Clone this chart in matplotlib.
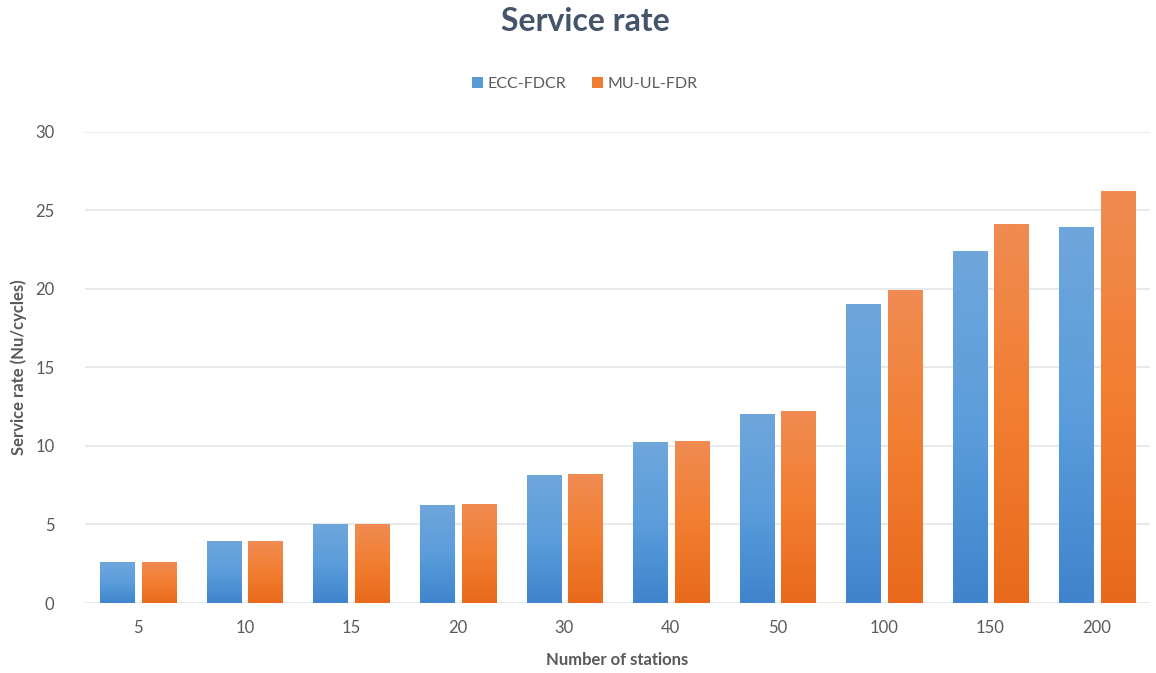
import numpy as np
import matplotlib.pyplot as plt
import matplotlib.colors as mcolors
from matplotlib.patches import Patch

plt.rcParams['font.family'] = ['Lato', 'DejaVu Sans']

# Service rate per number of stations
stations = ['5', '10', '15', '20', '30', '40', '50', '100', '150', '200']
ecc_fdcr = [2.6, 3.9, 5.0, 6.2, 8.1, 10.2, 12.0, 19.0, 22.4, 23.9]
mu_ul_fdr = [2.6, 3.9, 5.0, 6.3, 8.2, 10.3, 12.2, 19.9, 24.1, 26.2]
series_names = ['ECC-FDCR', 'MU-UL-FDR']

# light top -> darker bottom, like the office-style gradient fill
blue_grad = mcolors.LinearSegmentedColormap.from_list('b', ['#3f84cc', '#5b9ddc', '#6fa6db'])
orange_grad = mcolors.LinearSegmentedColormap.from_list('o', ['#e8691c', '#f27e30', '#f08b52'])

fig = plt.figure(figsize=(11.56, 6.73), dpi=100)
ax = fig.add_axes([0.0735, 0.104, 0.9215, 0.700])

x = np.arange(len(stations))
w = 0.32
off = 0.195

grad = np.linspace(0, 1, 256).reshape(-1, 1)
for vals, dx, cmap in [(ecc_fdcr, -off, blue_grad), (mu_ul_fdr, off, orange_grad)]:
    bars = ax.bar(x + dx, vals, w, color='none', linewidth=0, zorder=3)
    for b in bars:
        x0, h = b.get_x(), b.get_height()
        ax.imshow(grad, cmap=cmap, origin='lower', aspect='auto',
                  extent=[x0, x0 + w, 0, h], zorder=2, interpolation='bilinear')

ax.set_xlim(-0.5, len(stations) - 0.5)
ax.set_ylim(0, 30)
ax.set_yticks(range(0, 31, 5))
ax.set_xticks(x)
ax.set_xticklabels(stations)

ax.grid(axis='y', color='#e3e6ea', linewidth=1.2, zorder=0)
ax.set_axisbelow(True)
for s in ax.spines.values():
    s.set_visible(False)
ax.tick_params(length=0, labelsize=12, labelcolor='#595959', pad=12)
ax.tick_params(axis='y', pad=22)

ax.set_xlabel('Number of stations', fontsize=12, fontweight='bold', color='#595959', labelpad=12)
ax.set_ylabel('Service rate (Nu/cycles)', fontsize=12, fontweight='bold', color='#595959', labelpad=6)

fig.suptitle('Service rate', x=0.506, y=0.99, fontsize=23, fontweight='bold', color='#44546a')

handles = [Patch(facecolor='#5b9bd5'), Patch(facecolor='#ed7d31')]
fig.legend(handles, series_names, loc='center', bbox_to_anchor=(0.506, 0.875), ncol=2,
           frameon=False, fontsize=11.5, labelcolor='#595959', handlelength=0.7,
           handleheight=0.7, handletextpad=0.3, columnspacing=1.6)

fig.savefig('out.png', dpi=100)
